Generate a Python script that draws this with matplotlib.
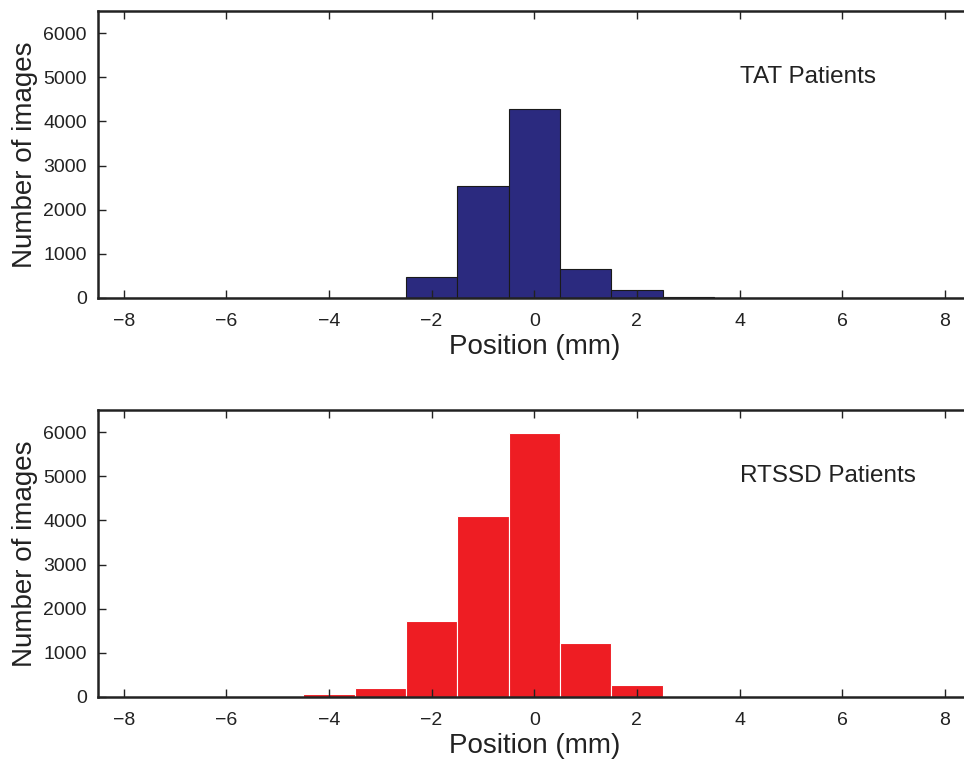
import numpy as np
import matplotlib.pyplot as plt

plt.rcParams['font.family'] = ['Liberation Sans', 'DejaVu Sans']

# bin centres (mm), width 1
positions = np.arange(-8, 9)

# counts per bin, positions -8..8
tat_counts = [0, 0, 0, 0, 0, 10, 470, 2530, 4280, 660, 180, 20, 0, 0, 0, 0, 0]
rtssd_counts = [8, 8, 0, 8, 60, 200, 1720, 4100, 5980, 1230, 280, 0, 8, 8, 8, 8, 8]
tick_labels = ['\u22128', '\u22126', '\u22124', '\u22122', '0', '2', '4', '6', '8']

fig = plt.figure(figsize=(9.64, 7.6), dpi=100)
ax1 = fig.add_axes([0.1017, 0.6079, 0.905, 0.3776])
ax2 = fig.add_axes([0.1017, 0.0829, 0.905, 0.3776])

ax1.bar(positions, tat_counts, width=1.0, color='#2b2a7f', edgecolor='#1a1a1a', linewidth=0.8)
ax2.bar(positions, rtssd_counts, width=1.0, color='#ee1d23', edgecolor='white', linewidth=0.8)

ax1.text(4, 5000, 'TAT Patients', fontsize=17.5, va='center', ha='left', color='#222222')
ax2.text(4, 5000, 'RTSSD Patients', fontsize=17.5, va='center', ha='left', color='#222222')

for ax in (ax1, ax2):
    ax.set_xlim(-8.5, 8.5)
    ax.set_ylim(0, 6500)
    ax.set_xticks(np.arange(-8, 9, 2))
    ax.set_yticks(np.arange(0, 6001, 1000))
    ax.set_xticklabels(tick_labels)
    ax.tick_params(direction='in', top=True, right=False, length=6, width=1,
                   labelsize=14, colors='#222222', pad=8)
    ax.tick_params(axis='x', pad=11)
    for s in ax.spines.values():
        s.set_linewidth(1.8)
        s.set_color('#222222')
    ax.set_xlabel('Position (mm)', fontsize=20, color='#222222', labelpad=3)
    ax.set_ylabel('Number of images', fontsize=20, color='#222222', labelpad=4)

fig.savefig('out.png', dpi=100)
